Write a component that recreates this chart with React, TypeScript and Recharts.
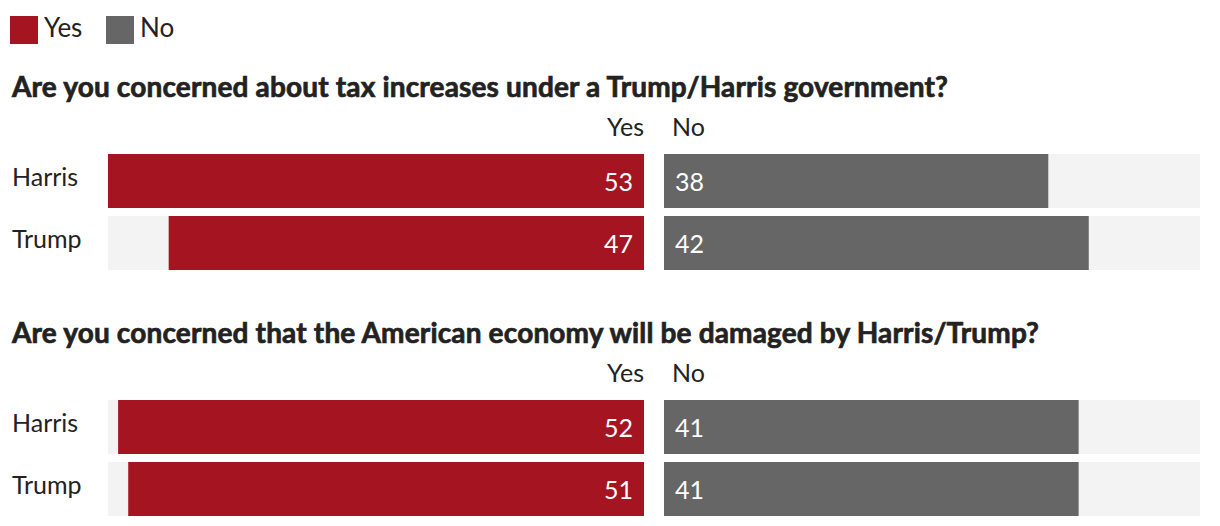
import React from 'react';
import { BarChart, Bar, XAxis, YAxis, LabelList } from 'recharts';

const categories = ['Harris', 'Trump'];
const taxYes = [53, 47];
const taxNo = [38, 42];
const economyYes = [52, 51];
const economyNo = [41, 41];
const domainMax = 53;

const RED = '#a51421';
const GRAY = '#666666';
const BG = '#f3f3f3';
const TEXT = '#222222';
const FONT = 'Lato, "Open Sans", sans-serif';

const sections = [
  {
    title: 'Are you concerned about tax increases under a Trump/Harris government?',
    rows: categories.map((name, i) => ({ name, yes: taxYes[i], no: taxNo[i] })),
    offset: 0,
  },
  {
    title: 'Are you concerned that the American economy will be damaged by Harris/Trump?',
    rows: categories.map((name, i) => ({ name, yes: economyYes[i], no: economyNo[i] })),
    offset: 246,
  },
];

const CategoryTick = (props: any) => {
  const { y, payload } = props;
  return (
    <text x={12} y={y} dy={5} textAnchor="start" fill={TEXT} fontSize={25} fontFamily={FONT}>
      {payload.value}
    </text>
  );
};

const yesLabel = (props: any) => {
  const { x, y, width, height, value } = props;
  const right = Math.max(x, x + width);
  return (
    <text x={right - 11} y={y + height / 2} dy={10} textAnchor="end" fill="#fff" fontSize={25} fontFamily={FONT}>
      {value}
    </text>
  );
};

const noLabel = (props: any) => {
  const { x, y, width, height, value } = props;
  const left = Math.min(x, x + width);
  return (
    <text x={left + 11} y={y + height / 2} dy={10} textAnchor="start" fill="#fff" fontSize={25} fontFamily={FONT}>
      {value}
    </text>
  );
};

const Section = ({ title, rows, offset }: { title: string; rows: any[]; offset: number }) => (
  <>
    <div
      style={{
        position: 'absolute', left: 12, top: 72 + offset, fontSize: 28, lineHeight: '28px',
        fontWeight: 700, color: TEXT, fontFamily: FONT, whiteSpace: 'nowrap',
        letterSpacing: '0.16px', WebkitTextStroke: `0.7px ${TEXT}`,
      }}
    >
      {title}
    </div>
    <div
      style={{
        position: 'absolute', right: 1220 - 644, top: 114 + offset, fontSize: 25, lineHeight: '25px',
        color: TEXT, fontFamily: FONT,
      }}
    >
      Yes
    </div>
    <div
      style={{
        position: 'absolute', left: 672, top: 114 + offset, fontSize: 25, lineHeight: '25px',
        color: TEXT, fontFamily: FONT,
      }}
    >
      No
    </div>
    <div style={{ position: 'absolute', left: 0, top: 150 + offset }}>
      <BarChart width={644} height={124} data={rows} layout="vertical" margin={{ top: 0, right: 0, bottom: 0, left: 0 }}>
        <XAxis type="number" domain={[0, domainMax]} reversed hide />
        <YAxis type="category" dataKey="name" width={108} axisLine={false} tickLine={false} tick={<CategoryTick />} />
        <Bar dataKey="yes" fill={RED} barSize={54} background={{ fill: BG }} isAnimationActive={false}>
          <LabelList dataKey="yes" content={yesLabel} />
        </Bar>
      </BarChart>
    </div>
    <div style={{ position: 'absolute', left: 664, top: 150 + offset }}>
      <BarChart width={536} height={124} data={rows} layout="vertical" margin={{ top: 0, right: 0, bottom: 0, left: 0 }}>
        <XAxis type="number" domain={[0, domainMax]} hide />
        <YAxis type="category" dataKey="name" hide />
        <Bar dataKey="no" fill={GRAY} barSize={54} background={{ fill: BG }} isAnimationActive={false}>
          <LabelList dataKey="no" content={noLabel} />
        </Bar>
      </BarChart>
    </div>
  </>
);

const LegendItem = ({ color, label, left }: { color: string; label: string; left: number }) => (
  <div style={{ position: 'absolute', left, top: 16, height: 28 }}>
    <div style={{ position: 'absolute', left: 0, top: 0, width: 28, height: 28, background: color }} />
    <span
      style={{
        position: 'absolute', left: 34, top: -3, fontSize: 26, lineHeight: '28px',
        color: TEXT, fontFamily: FONT, whiteSpace: 'nowrap',
      }}
    >
      {label}
    </span>
  </div>
);

export default function App() {
  return (
    <div style={{ position: 'absolute', left: 0, top: 0, width: 1220, height: 526, background: '#fff', overflow: 'hidden' }}>
      <LegendItem color={RED} label="Yes" left={10} />
      <LegendItem color={GRAY} label="No" left={106} />
      {sections.map((s) => (
        <Section key={s.title} title={s.title} rows={s.rows} offset={s.offset} />
      ))}
    </div>
  );
}
